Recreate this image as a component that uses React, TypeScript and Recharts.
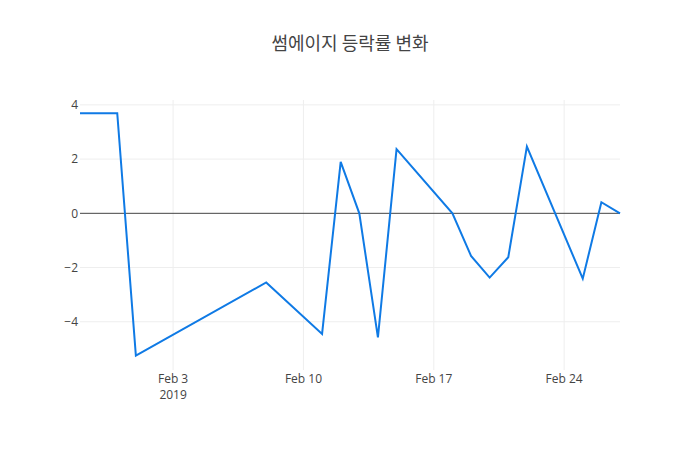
import React from 'react';
import { LineChart, Line, XAxis, YAxis, CartesianGrid, ReferenceLine } from 'recharts';

// trading days and their change rate (%)
const dates = [
  '2019-01-29', '2019-01-31', '2019-02-01', '2019-02-08', '2019-02-11', '2019-02-12',
  '2019-02-13', '2019-02-14', '2019-02-15', '2019-02-18', '2019-02-19', '2019-02-20',
  '2019-02-21', '2019-02-22', '2019-02-25', '2019-02-26', '2019-02-27',
];
const rates = [3.69, 3.69, -5.25, -2.55, -4.45, 1.9, 0, -4.58, 2.37, 0, -1.57, -2.37, -1.62, 2.46, -2.41, 0.41, 0];

const xTicks = ['2019-02-03', '2019-02-10', '2019-02-17', '2019-02-24'];
const yTicks = [-4, -2, 0, 2, 4];

const toTime = (d: string) => new Date(d + 'T00:00:00Z').getTime();

const data = dates.map((d, i) => ({ t: toTime(d), rate: rates[i] }));

const MONTHS = ['Jan', 'Feb', 'Mar', 'Apr', 'May', 'Jun', 'Jul', 'Aug', 'Sep', 'Oct', 'Nov', 'Dec'];
const FONT = '"Open Sans", "Noto Sans CJK KR", sans-serif';

const DateTick = ({ x, y, payload, index }: any) => {
  const d = new Date(payload.value);
  return (
    <g transform={`translate(${x},${y})`}>
      <text x={0} y={0} dy={13} textAnchor="middle" fill="#444" fontSize={12} fontFamily={FONT}>
        {`${MONTHS[d.getUTCMonth()]} ${d.getUTCDate()}`}
      </text>
      {index === 0 && (
        <text x={0} y={0} dy={29} textAnchor="middle" fill="#444" fontSize={12} fontFamily={FONT}>
          {d.getUTCFullYear()}
        </text>
      )}
    </g>
  );
};

const fmtY = (v: number) => (v < 0 ? `\u2212${Math.abs(v)}` : `${v}`);

export default function App() {
  return (
    <div style={{ position: 'absolute', left: 0, top: 0, width: 700, height: 450, background: '#fff' }}>
      <svg width={700} height={60} style={{ position: 'absolute', left: 0, top: 0 }}>
        <text x={350} y={50} textAnchor="middle" fill="#444" fontSize={18} fontFamily='"Noto Sans CJK KR", "Open Sans", sans-serif'>
          썸에이지 등락률 변화
        </text>
      </svg>
      <LineChart
        width={700}
        height={450}
        data={data}
        margin={{ top: 100, right: 80, bottom: 50, left: 50 }}
      >
        <CartesianGrid stroke="#eee" horizontalValues={[-4, -2, 2, 4]} verticalValues={xTicks.map(toTime)} />
        <XAxis
          dataKey="t"
          type="number"
          scale="time"
          domain={[toTime('2019-01-29'), toTime('2019-02-27')]}
          ticks={xTicks.map(toTime)}
          tick={<DateTick />}
          axisLine={false}
          tickLine={false}
          tickSize={0}
          height={30}
          tickMargin={0}
        />
        <YAxis
          type="number"
          domain={[-5.78, 4.18]}
          ticks={yTicks}
          tickFormatter={fmtY}
          axisLine={false}
          tickLine={false}
          tickSize={0}
          width={30}
          tick={{ fill: '#444', fontSize: 12, fontFamily: FONT }}
          tickMargin={2}
          allowDataOverflow
        />
        <ReferenceLine y={0} stroke="#444" strokeWidth={1} />
        <Line
          type="linear"
          dataKey="rate"
          stroke="#0f7ae5"
          strokeWidth={2}
          dot={false}
          activeDot={false}
          isAnimationActive={false}
        />
      </LineChart>
    </div>
  );
}
